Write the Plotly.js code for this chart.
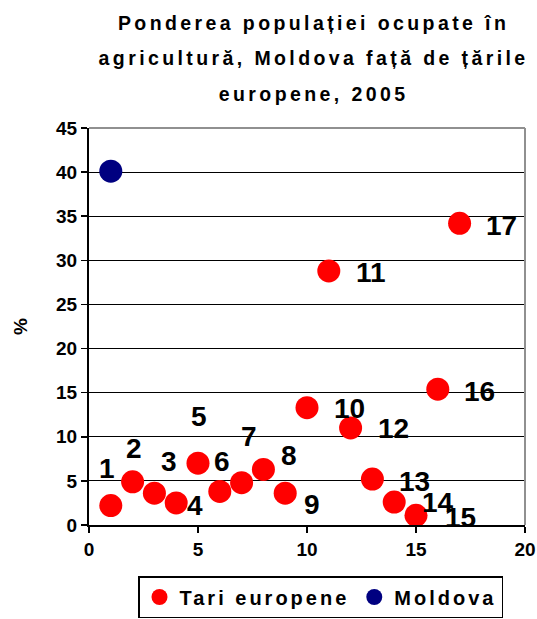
<!DOCTYPE html>
<html>
<head>
<meta charset="utf-8">
<script src="https://cdn.plot.ly/plotly-3.0.1.min.js"></script>
<style>html,body{margin:0;padding:0;background:#fff;}#chart{width:537px;height:619px;}</style>
</head>
<body>
<div id="chart"></div>
<script>
// ---- data ----
var countryIds = [1,2,3,4,5,6,7,8,9,10,11,12,13,14,15,16,17];
var countryShare = [2.2,4.9,3.6,2.5,7.0,3.8,4.8,6.3,3.6,13.3,28.8,11.0,5.2,2.6,1.1,15.4,34.2];
var pointLabels = ["1","2","3","4","5","6","7","8","9","10","11","12","13","14","15","16","17"];
var moldovaX = [1];
var moldovaShare = [40.1];
var seriesNames = ["Tari europene","Moldova"];
var titleLines = ["Ponderea populației ocupate în","agricultură, Moldova față de țările","europene, 2005"];
var yTitle = "%";

// ---- label offsets (pixels, style only) ----
var labelDx = [-4,1,15,19,1,2,7,26,27,42,42,43,42,44,44,42,42];
var labelDy = [-37,-33,-32,3,-47,-30,-46,-14,11,1,2,1,2,0,2,2,2];

var FONT = "Liberation Sans, Arial, sans-serif";
function spaced(t, ls, fs){
  return '<span style="letter-spacing:'+ls+'px;font-size:'+fs+'px">'+t+'</span>';
}

var traces = [
  {x: countryIds, y: countryShare, type:'scatter', mode:'markers', name: spaced(seriesNames[0],3.0,20),
   marker:{color:'#FF0000', size:23}, cliponaxis:false},
  {x: moldovaX, y: moldovaShare, type:'scatter', mode:'markers', name: spaced(seriesNames[1],3.0,20),
   marker:{color:'#000080', size:23}, cliponaxis:false}
];

var annotations = countryIds.map(function(xv,i){
  return {x: xv, y: countryShare[i], xref:'x', yref:'y', text: pointLabels[i], showarrow:false,
    xshift: labelDx[i], yshift: -labelDy[i], xanchor:'center', yanchor:'middle',
    font:{family:FONT, size:28, color:'#000', weight:'bold'}};
});

var layout = {
  width:537, height:619,
  margin:{l:88.5, r:12, t:128, b:94},
  paper_bgcolor:'#fff', plot_bgcolor:'#fff',
  font:{family:FONT, color:'#000', weight:'bold'},
  title:{text: titleLines.map(function(t){return spaced(t,3.4,19.5);}).join('<br>'),
    font:{family:FONT, size:27.5, color:'#000', weight:'bold'},
    x:0.584, xref:'container', xanchor:'center', y:0.952, yanchor:'top', yref:'container'},
  xaxis:{range:[0,20], dtick:5, tick0:0, showgrid:false, zeroline:false,
    showline:true, linecolor:'#000', linewidth:2, ticks:'outside', ticklen:6, tickcolor:'#000', tickwidth:1.5,
    tickfont:{family:FONT, size:19, color:'#000', weight:'bold'}, fixedrange:true, automargin:false},
  yaxis:{range:[0,45], dtick:5, tick0:0, showgrid:true, gridcolor:'#000', gridwidth:1.2, zeroline:false,
    showline:true, linecolor:'#000', linewidth:2, ticks:'outside', ticklen:6, tickcolor:'#000', tickwidth:1.5,
    tickfont:{family:FONT, size:19, color:'#000', weight:'bold'}, automargin:false,
    title:{text:yTitle, font:{family:FONT, size:19, color:'#000', weight:'bold'}, standoff:23}, fixedrange:true},
  showlegend:true,
  legend:{orientation:'h', x:138/537, xanchor:'left', y:(619-576)/619, yanchor:'top', xref:'container', yref:'container',
    bordercolor:'#000', borderwidth:1.5, bgcolor:'#fff',
    font:{family:FONT, size:20, color:'#000', weight:'bold'}},
  shapes:[
    {type:'line', xref:'paper', yref:'paper', x0:0, x1:1, y0:1, y1:1, line:{color:'#909090', width:2}, layer:'above'},
    {type:'line', xref:'paper', yref:'paper', x0:1, x1:1, y0:0, y1:1, line:{color:'#909090', width:2}, layer:'above'}
  ],
  annotations: annotations
};

Plotly.newPlot('chart', traces, layout, {staticPlot:true, displayModeBar:false});
</script>
</body>
</html>
